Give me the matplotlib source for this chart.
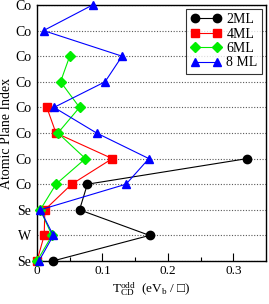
import numpy as np
import matplotlib
matplotlib.use("Agg")
import matplotlib.pyplot as plt

plt.rcParams["font.family"] = ["Liberation Serif", "DejaVu Serif"]
plt.rcParams["mathtext.fontset"] = "custom"
plt.rcParams["mathtext.rm"] = "Liberation Serif"
plt.rcParams["mathtext.it"] = "Liberation Serif"

# Layer labels, bottom to top
layers = ["Se", "W", "Se", "Co", "Co", "Co", "Co", "Co", "Co", "Co", "Co"]

# T_CD^odd per layer for each thickness
t_2ml = [0.024, 0.172, 0.065, 0.077, 0.321]
t_4ml = [0.0, 0.011, 0.012, 0.053, 0.115, 0.029, 0.015]
t_6ml = [0.0, 0.023, 0.005, 0.029, 0.074, 0.032, 0.065, 0.036, 0.050]
t_8ml = [0.003, 0.025, 0.005, 0.136, 0.171, 0.091, 0.026, 0.104, 0.130, 0.010, 0.085]

series = [
    (t_2ml, "2ML", "black", "o"),
    (t_4ml, "4ML", "red", "s"),
    (t_6ml, "6ML", "#00ee00", "D"),
    (t_8ml, "8 ML", "blue", "^"),
]

fig = plt.figure(figsize=(2.69, 3.04), dpi=100)
ax = fig.add_axes([0.1375, 0.1414, 0.8515, 0.8422])

for i in range(len(layers)):
    ax.axhline(i, color="0.35", lw=0.8, ls=(0, (1, 1.5)), zorder=1)

for vals, name, col, mk in series:
    ms = 6 if mk != "D" else 5
    ax.plot(vals, np.arange(len(vals)), color=col, marker=mk, ms=ms, lw=0.8,
            label=name, clip_on=False, zorder=3)

ax.set_xlim(0, 0.35)
ax.set_ylim(0, len(layers) - 1)
ax.set_xticks([0, 0.1, 0.2, 0.3])
ax.set_xticklabels(["0", "0.1", "0.2", "0.3"])
ax.set_xticks(np.arange(0.05, 0.35, 0.1), minor=True)
ax.tick_params(axis="x", direction="in", length=6, width=0.8, labelsize=9.5, pad=3)
ax.tick_params(axis="x", which="minor", direction="in", length=3, width=0.8)
ax.set_yticks(np.arange(len(layers)))
ax.set_yticklabels(layers)
ax.tick_params(axis="y", length=0, labelsize=10, pad=4)
for s in ax.spines.values():
    s.set_linewidth(1.0)

ax.set_ylabel("Atomic Plane Index", fontsize=10, labelpad=1.5)
ax.set_xlabel("T$_{\\rm CD}^{\\rm odd}$  (eV$_{\\rm b}$ / \u25a1)", fontsize=9.5, labelpad=2)

leg = ax.legend(loc="upper right", numpoints=2, fontsize=10, frameon=True, fancybox=False,
                borderaxespad=0.3, handlelength=2.2, handletextpad=0.4,
                labelspacing=0.1, borderpad=0.3)
leg.get_frame().set_edgecolor("black")
leg.get_frame().set_linewidth(0.8)

fig.savefig("out.png", dpi=100)
